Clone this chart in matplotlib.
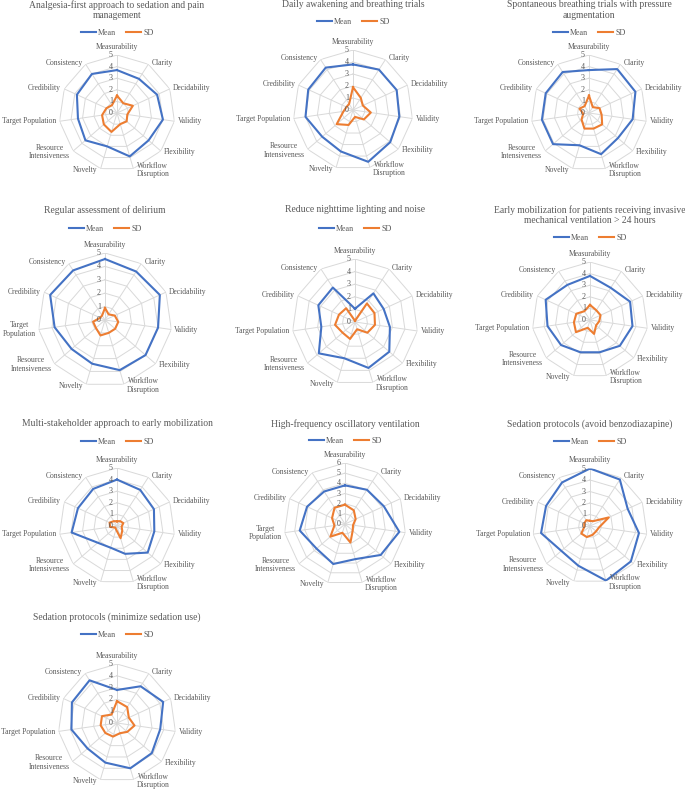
"""Ten radar charts (Mean vs SD of expert ratings) in a 4x3 grid."""

import matplotlib
matplotlib.use("Agg")
import matplotlib.pyplot as plt
import numpy as np

plt.rcParams["font.family"] = ["Liberation Serif", "DejaVu Serif"]

W, H = 685, 789
TEXT = "#595959"
GRID = "#D9D9D9"
BLUE = "#4472C4"
ORANGE = "#ED7D31"

categories = [
    "Measurability", "Clarity", "Decidability", "Validity", "Flexibility",
    "Workflow\nDisruption", "Novelty", "Resource\nIntensiveness",
    "Target Population", "Credibility", "Consistency",
]

titles = [
    "Analgesia-first approach to sedation and pain\nmanagement",
    "Daily awakening and breathing trials",
    "Spontaneous breathing trials with pressure\naugmentation",
    "Regular assessment of delirium",
    "Reduce nighttime lighting and noise",
    "Early mobilization for patients receiving invasive\nmechanical ventilation > 24 hours",
    "Multi-stakeholder approach to early mobilization",
    "High-frequency oscillatory ventilation",
    "Sedation protocols (avoid benzodiazapine)",
    "Sedation protocols (minimize sedation use)",
]

mean_analgesia = [3.7, 3.5, 3.8, 4.0, 3.6, 3.9, 3.0, 3.6, 3.4, 3.8, 4.0]
sd_analgesia = [1.5, 1.0, 1.5, 0.9, 1.1, 1.0, 1.7, 1.5, 1.3, 1.0, 0.8]
mean_awakening = [3.8, 4.0, 4.0, 3.9, 4.1, 4.5, 3.6, 3.4, 4.0, 4.1, 4.2]
sd_awakening = [1.9, 1.2, 0.9, 1.5, 1.2, 0.6, 1.3, 1.8, 0.8, 0.6, 0.6]
mean_sbt = [3.7, 4.5, 4.4, 3.8, 3.3, 3.7, 2.9, 4.1, 4.1, 4.1, 4.2]
sd_sbt = [1.5, 0.6, 1.0, 1.1, 1.5, 1.4, 1.4, 0.85, 0.5, 0.9, 0.7]
mean_delirium = [4.55, 4.3, 4.5, 4.0, 4.0, 3.9, 3.4, 3.3, 3.8, 4.5, 4.4]
sd_delirium = [0.9, 0.5, 0.8, 1.0, 1.0, 1.0, 1.2, 0.9, 0.9, 0.4, 0.4]
mean_nighttime = [1.05, 2.7, 2.5, 2.8, 3.6, 3.8, 3.0, 3.8, 2.7, 3.2, 3.25]
sd_nighttime = [0.1, 1.75, 1.7, 1.6, 1.3, 0.6, 1.4, 1.3, 1.6, 1.4, 1.3]
mean_early_mob = [3.8, 3.3, 3.8, 3.7, 3.4, 2.9, 2.9, 3.3, 3.7, 4.2, 3.6]
sd_early_mob = [1.3, 1.0, 1.0, 0.8, 0.7, 1.25, 0.7, 1.6, 1.4, 1.3, 0.9]
mean_stakeholder = [4.0, 3.7, 3.5, 3.25, 3.5, 2.5, 1.95, 2.2, 3.95, 3.7, 3.8]
sd_stakeholder = [0.4, 0.5, 0.6, 0.4, 0.6, 1.1, 0.3, 0.2, 0.6, 0.7, 0.5]
mean_hfov = [3.8, 4.0, 4.2, 5.4, 4.65, 3.6, 4.1, 3.7, 4.5, 4.1, 3.8]
sd_hfov = [1.9, 1.6, 1.15, 0.8, 1.0, 1.9, 0.9, 1.9, 1.05, 1.4, 1.9]
mean_benzo = [5.0, 4.8, 3.6, 4.3, 4.7, 4.95, 3.6, 3.3, 4.3, 4.2, 4.5]
sd_benzo = [0.45, 0.5, 1.8, 0.8, 0.7, 0.8, 1.0, 1.0, 0.5, 0.55, 0.6]
mean_minimize = [2.8, 3.7, 4.3, 3.7, 3.9, 4.0, 3.5, 3.3, 3.9, 4.2, 4.3]
sd_minimize = [1.85, 1.6, 1.1, 1.5, 1.15, 0.9, 1.2, 1.3, 1.4, 1.4, 0.85]

means = [mean_analgesia, mean_awakening, mean_sbt, mean_delirium, mean_nighttime,
         mean_early_mob, mean_stakeholder, mean_hfov, mean_benzo, mean_minimize]
sds = [sd_analgesia, sd_awakening, sd_sbt, sd_delirium, sd_nighttime,
       sd_early_mob, sd_stakeholder, sd_hfov, sd_benzo, sd_minimize]
axis_max = [5, 5, 5, 5, 5, 5, 5, 6, 5, 5]
split_target = [False, False, False, True, False, False, False, True, False, False]

# layout in pixels: radar centre, radius, title top, legend centre
centers = [(117, 113), (353, 110), (589, 113),
           (105, 320), (355, 322), (590, 320),
           (117, 526), (345, 524), (590, 526),
           (117, 723)]
radii = [58, 60, 58, 67, 63, 58, 58, 61, 57.5, 59]
title_tops = [0, 0, 0, 205, 205, 205, 419, 419, 419, 612]
legend_ys = [33, 22, 33, 229, 229, 238, 442, 441, 442, 635]

fig = plt.figure(figsize=(W / 100, H / 100), dpi=100)

n = len(categories)
theta = 2 * np.pi * np.arange(n) / n
theta_closed = np.append(theta, theta[0])

for k in range(len(titles)):
    cx, cy = centers[k]
    R = radii[k]
    rmax = axis_max[k]
    ax = fig.add_axes([(cx - R) / W, 1 - (cy + R) / H, 2 * R / W, 2 * R / H],
                      projection="polar")
    ax.set_theta_zero_location("N")
    ax.set_theta_direction(-1)
    ax.set_ylim(0, rmax)
    ax.grid(False)
    ax.set_xticks([])
    ax.set_yticks([])
    ax.spines["polar"].set_visible(False)
    ax.patch.set_alpha(0)

    for r in range(1, rmax + 1):
        ax.plot(theta_closed, np.full(n + 1, r), color=GRID, lw=0.7, zorder=1)
    for t in theta:
        ax.plot([t, t], [0, rmax], color=GRID, lw=0.7, zorder=1)

    ax.plot(theta_closed, np.append(means[k], means[k][0]), color=BLUE, lw=1.5,
            label="Mean", zorder=3, solid_joinstyle="round")
    ax.plot(theta_closed, np.append(sds[k], sds[k][0]), color=ORANGE, lw=1.5,
            label="SD", zorder=3, solid_joinstyle="round")

    for r in range(0, rmax + 1):
        ax.annotate(str(r), (0, r), xytext=(-3, 0), textcoords="offset points",
                    ha="right", va="center", fontsize=5.8, color=TEXT)

    for i, t in enumerate(theta):
        label = categories[i]
        if label == "Target Population" and split_target[k]:
            label = "Target\nPopulation"
        s, c = np.sin(t), np.cos(t)
        if abs(s) < 0.15:
            ha, va, off = "center", "bottom", (0, 3)
        else:
            ha = "left" if s > 0 else "right"
            va, off = "center", (2.2 * np.sign(s), 1.0 * c)
        ax.annotate(label, (t, rmax), xytext=off, textcoords="offset points",
                    ha=ha, va=va, fontsize=5.5, color=TEXT, multialignment="center",
                    annotation_clip=False, linespacing=1.1)

    fig.text(cx / W, 1 - title_tops[k] / H, titles[k], ha="center", va="top",
             fontsize=6.9, color=TEXT, linespacing=1.25)
    ax.legend(loc="center", bbox_to_anchor=(cx / W, 1 - legend_ys[k] / H),
              bbox_transform=fig.transFigure, ncol=2, frameon=False, fontsize=5.8,
              handlelength=1.9, handletextpad=0.2, columnspacing=1.3,
              labelcolor=TEXT)

fig.savefig("out.png", dpi=100)
